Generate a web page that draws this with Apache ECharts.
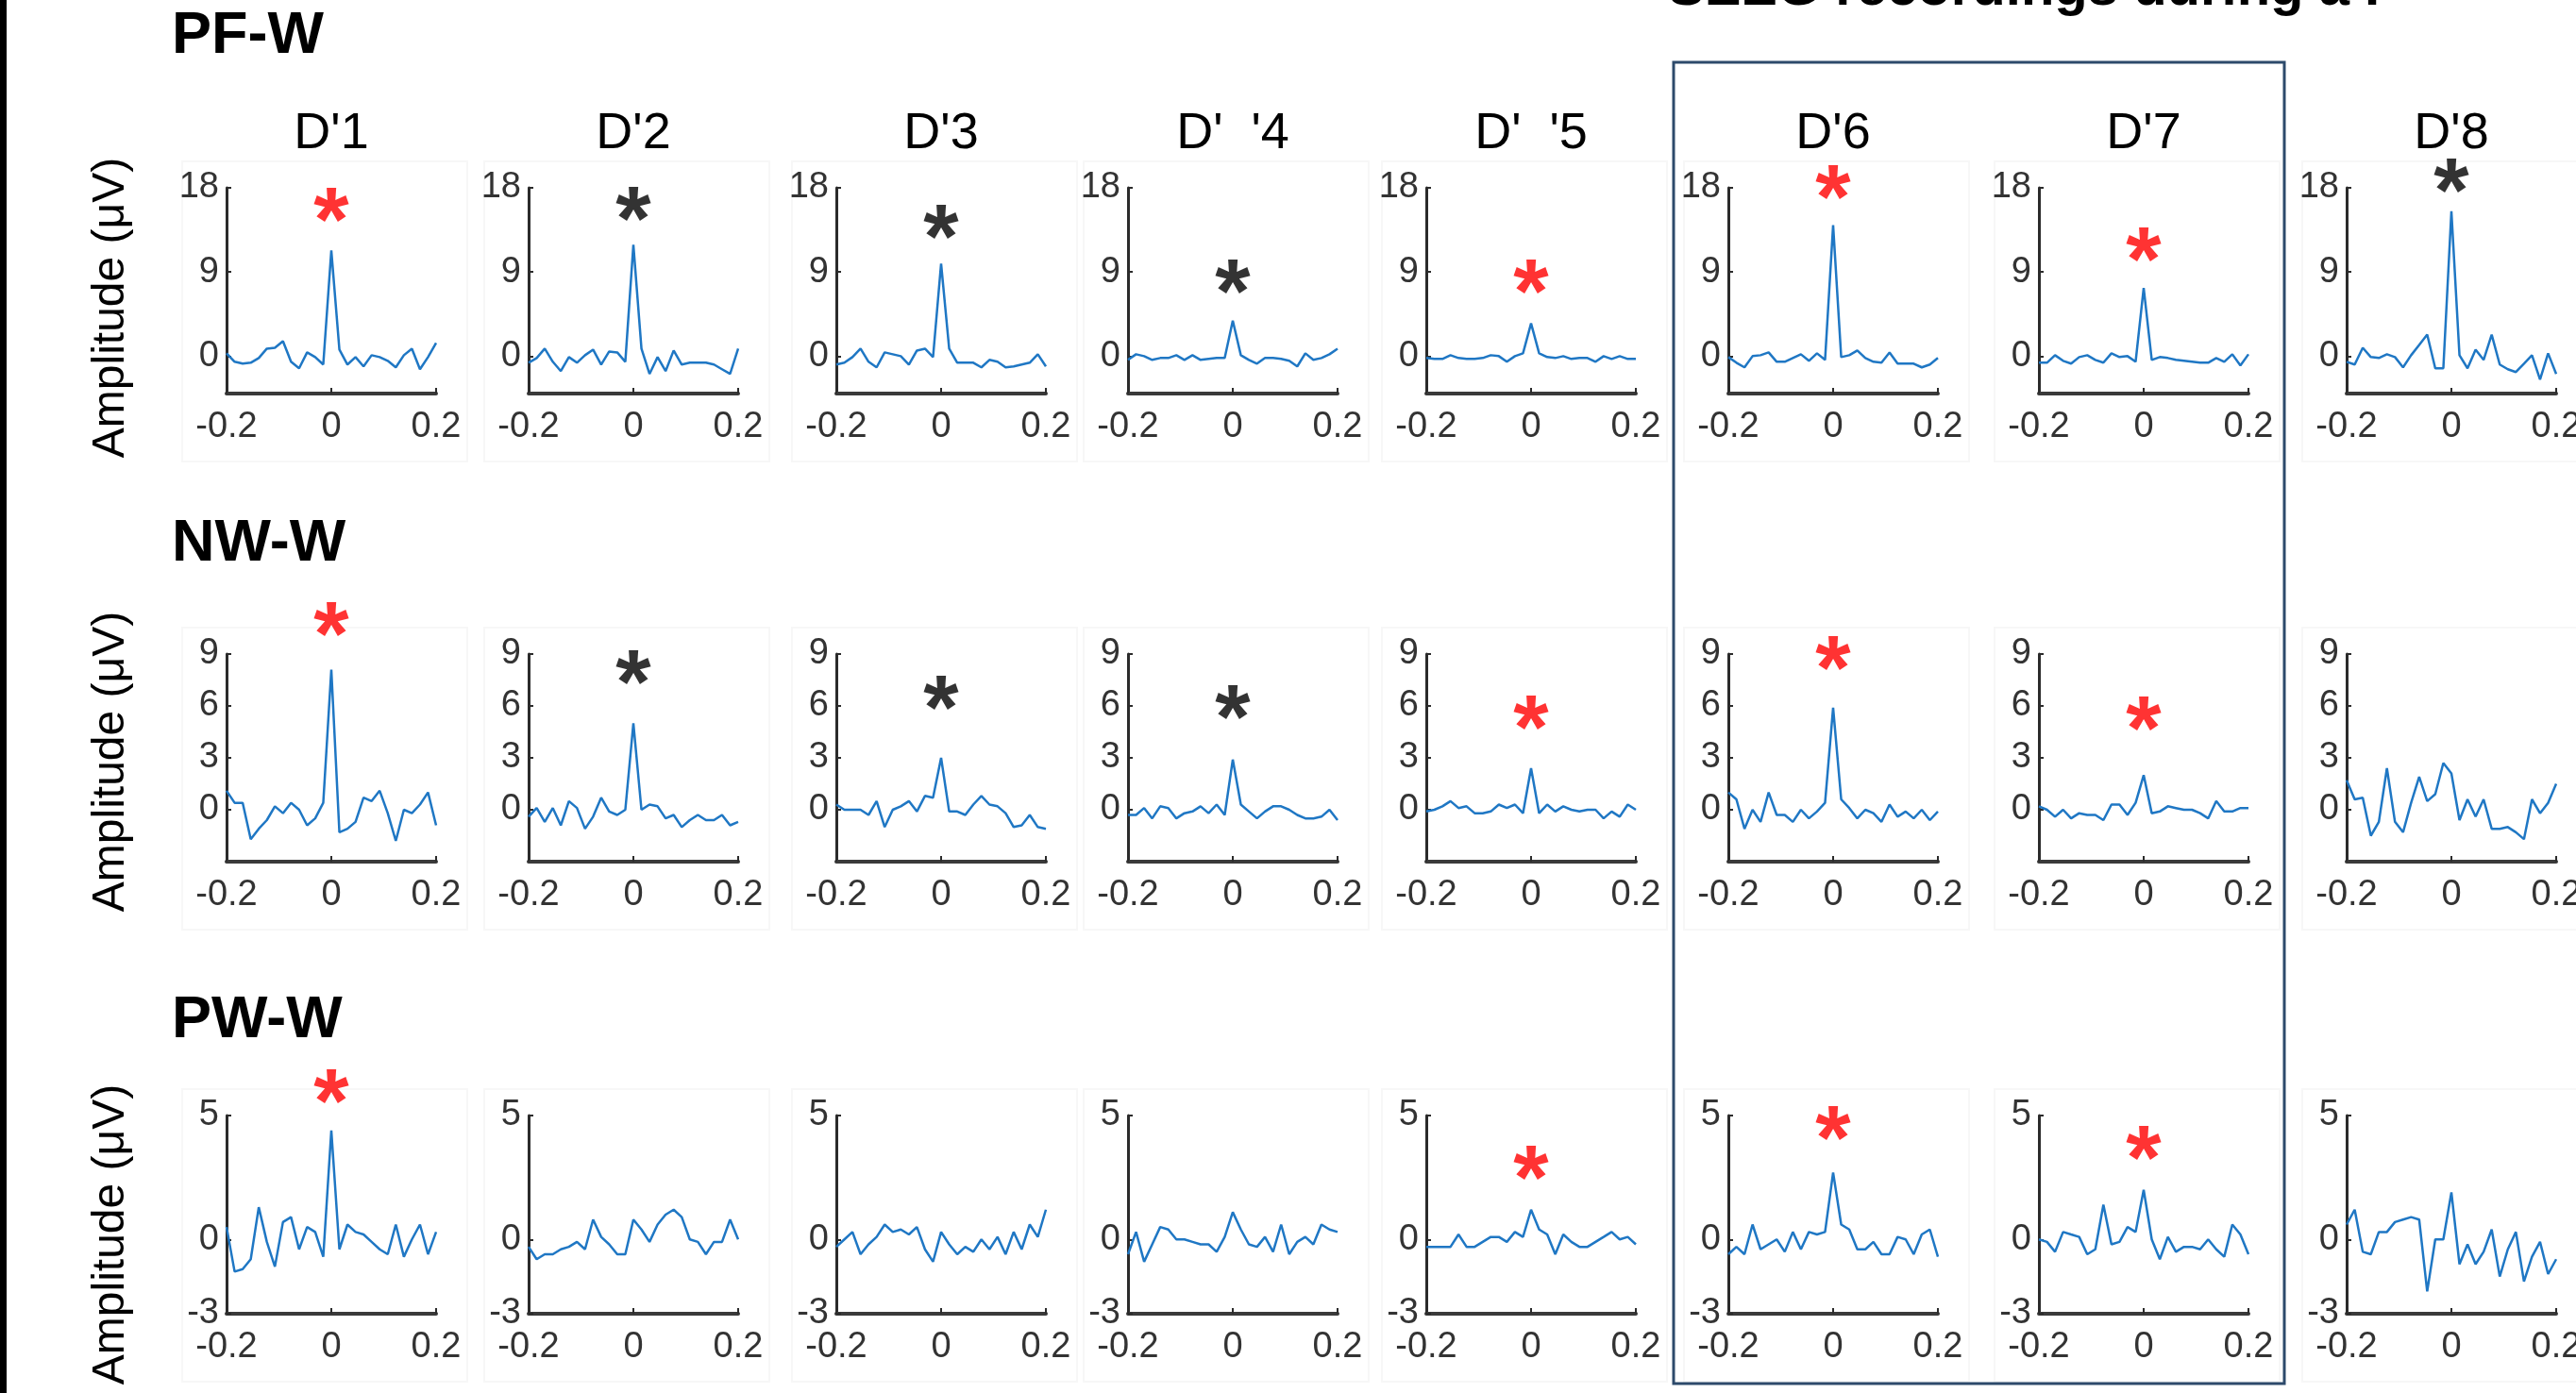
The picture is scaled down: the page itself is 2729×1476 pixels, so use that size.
<!DOCTYPE html>
<html>
<head>
<meta charset="utf-8">
<title>SEEG recordings</title>
<script src="https://cdn.jsdelivr.net/npm/echarts@6/dist/echarts.min.js"></script>
<style>
  html, body { margin: 0; padding: 0; background: #fff; overflow: hidden; }
  #main { width: 2729px; height: 1476px; }
</style>
</head>
<body>
<div id="main"></div>
<script>
// time axis (s), sample points of every trace
var times = [-0.2, -0.1846, -0.1692, -0.1538, -0.1385, -0.1231, -0.1077, -0.0923, -0.0769,
  -0.0615, -0.0462, -0.0308, -0.0154, 0, 0.0154, 0.0308, 0.0462, 0.0615, 0.0769,
  0.0923, 0.1077, 0.1231, 0.1385, 0.1538, 0.1692, 0.1846, 0.2];

var rowNames = ['PF-W', 'NW-W', 'PW-W'];
var colNames = ["D'1", "D'2", "D'3", "D'  '4", "D'  '5", "D'6", "D'7", "D'8"];
var yMin = [-4, -3, -3];
var yMax = [18, 9, 5];
var yTickValues = [[0, 9, 18], [0, 3, 6, 9], [-3, 0, 5]];

// amplitude (uV), one array per contact
var pfW = [
  [0.3,-0.6,-0.8,-0.7,-0.2,0.8,0.9,1.6,-0.6,-1.3,0.4,-0.1,-0.9,11.3,0.7,-0.9,-0.1,-1.1,0.1,-0.1,-0.5,-1.2,0.1,0.8,-1.4,-0.1,1.4],
  [-0.7,-0.2,0.8,-0.6,-1.6,-0.1,-0.7,0.1,0.7,-0.9,0.5,0.4,-0.6,11.9,0.8,-1.9,-0.1,-1.6,0.6,-0.9,-0.7,-0.7,-0.7,-0.9,-1.4,-1.9,0.8],
  [-0.9,-0.7,-0.1,0.8,-0.6,-1.2,0.4,0.2,0.0,-0.9,0.6,0.8,-0.1,9.9,0.8,-0.7,-0.7,-0.7,-1.2,-0.4,-0.6,-1.2,-1.1,-0.9,-0.7,0.2,-1.1],
  [-0.4,0.2,0.0,-0.4,-0.2,-0.2,0.1,-0.4,0.1,-0.4,-0.3,-0.2,-0.2,3.8,0.1,-0.4,-0.8,-0.2,-0.2,-0.3,-0.5,-1.1,0.3,-0.4,-0.2,0.2,0.8],
  [-0.2,-0.3,-0.3,0.1,-0.2,-0.3,-0.3,-0.2,0.1,0.0,-0.6,0.0,0.3,3.5,0.3,-0.1,-0.2,0.0,-0.3,-0.2,-0.2,-0.6,0.0,-0.3,0.0,-0.3,-0.3],
  [-0.1,-0.7,-1.2,0.0,0.1,0.4,-0.6,-0.6,-0.2,0.2,-0.5,0.3,-0.4,14.0,-0.1,0.1,0.6,-0.2,-0.6,-0.7,0.4,-0.8,-0.8,-0.8,-1.2,-0.9,-0.2],
  [-0.7,-0.7,0.1,-0.5,-0.8,-0.1,0.1,-0.4,-0.7,0.3,-0.1,0.0,-0.6,7.3,-0.4,-0.1,-0.2,-0.4,-0.5,-0.6,-0.7,-0.7,-0.2,-0.6,0.2,-1.0,0.2],
  [-0.6,-0.9,0.9,-0.1,-0.2,0.2,-0.1,-1.2,0.1,1.2,2.3,-1.3,-1.3,15.5,0.1,-1.3,0.7,-0.4,2.3,-0.9,-1.4,-1.7,-0.8,0.1,-2.5,0.3,-1.9]
];
var nwW = [
  [1.1,0.4,0.4,-1.7,-1.1,-0.6,0.2,-0.2,0.4,0.0,-0.9,-0.5,0.4,8.1,-1.3,-1.1,-0.7,0.7,0.5,1.1,-0.2,-1.8,0.0,-0.2,0.3,1.0,-0.9],
  [-0.4,0.1,-0.7,0.1,-0.9,0.5,0.1,-1.1,-0.4,0.7,-0.1,-0.3,0.0,5.0,0.0,0.3,0.2,-0.5,-0.3,-1.0,-0.6,-0.3,-0.6,-0.6,-0.3,-0.9,-0.7],
  [0.3,0.0,0.0,0.0,-0.3,0.5,-1.0,0.0,0.2,0.5,-0.1,0.8,0.7,3.0,-0.1,-0.1,-0.3,0.3,0.8,0.3,0.2,-0.2,-1.0,-0.9,-0.3,-1.0,-1.1],
  [-0.3,-0.3,0.1,-0.5,0.2,0.1,-0.5,-0.2,-0.1,0.2,-0.2,0.3,-0.3,2.9,0.3,-0.1,-0.5,-0.1,0.2,0.2,0.0,-0.3,-0.5,-0.5,-0.4,0.0,-0.6],
  [-0.1,0.0,0.2,0.5,0.1,0.2,-0.2,-0.2,-0.1,0.3,0.1,0.3,-0.2,2.4,-0.2,0.3,-0.1,0.2,0.0,-0.1,0.0,0.0,-0.5,-0.1,-0.4,0.3,0.0],
  [1.0,0.6,-1.1,0.0,-0.7,1.0,-0.3,-0.3,-0.7,0.0,-0.5,-0.1,0.4,5.9,0.6,0.1,-0.5,0.0,-0.2,-0.7,0.3,-0.4,-0.1,-0.5,0.0,-0.6,-0.1],
  [0.2,0.0,-0.4,0.0,-0.5,-0.2,-0.3,-0.3,-0.6,0.3,0.3,-0.3,0.4,2.0,-0.2,-0.1,0.2,0.1,0.0,0.0,-0.2,-0.5,0.5,-0.1,-0.1,0.1,0.1],
  [1.7,0.6,0.7,-1.5,-0.7,2.4,-0.7,-1.3,0.4,1.9,0.5,0.9,2.7,2.1,-0.6,0.6,-0.4,0.6,-1.1,-1.1,-1.0,-1.3,-1.7,0.6,-0.2,0.4,1.5]
];
var pwW = [
  [0.5,-1.3,-1.2,-0.8,1.3,-0.1,-1.1,0.7,0.9,-0.4,0.5,0.3,-0.7,4.4,-0.4,0.6,0.3,0.2,-0.1,-0.4,-0.6,0.6,-0.7,0.0,0.6,-0.6,0.3],
  [-0.3,-0.8,-0.6,-0.6,-0.4,-0.3,-0.1,-0.4,0.8,0.1,-0.2,-0.6,-0.6,0.8,0.4,-0.1,0.6,1.0,1.2,0.9,0.0,-0.1,-0.6,-0.1,-0.1,0.8,0.0],
  [-0.3,0.0,0.3,-0.6,-0.2,0.1,0.6,0.3,0.4,0.2,0.5,-0.4,-0.9,0.3,-0.2,-0.6,-0.3,-0.5,0.0,-0.4,0.1,-0.6,0.3,-0.4,0.6,0.1,1.2],
  [-0.6,0.3,-0.9,-0.2,0.5,0.4,0.0,0.0,-0.1,-0.2,-0.2,-0.5,0.1,1.1,0.4,-0.2,-0.3,0.1,-0.5,0.6,-0.6,-0.1,0.1,-0.2,0.6,0.4,0.3],
  [-0.3,-0.3,-0.3,-0.3,0.2,-0.3,-0.3,-0.1,0.1,0.1,-0.1,0.3,0.1,1.2,0.4,0.2,-0.6,0.2,-0.1,-0.3,-0.3,-0.1,0.1,0.3,0.0,0.1,-0.2],
  [-0.6,-0.3,-0.6,0.6,-0.4,-0.2,0.0,-0.5,0.3,-0.4,0.3,0.2,0.3,2.7,0.6,0.4,-0.4,-0.4,-0.1,-0.6,-0.6,0.1,0.0,-0.6,0.2,0.4,-0.7],
  [0.0,-0.1,-0.5,0.3,0.2,0.1,-0.6,-0.4,1.4,-0.2,-0.1,0.5,0.3,2.0,0.0,-0.8,0.1,-0.5,-0.3,-0.3,-0.4,0.0,-0.4,-0.7,0.6,0.2,-0.6],
  [0.6,1.2,-0.5,-0.6,0.3,0.3,0.7,0.8,0.9,0.8,-2.1,0.0,0.0,1.9,-1.0,-0.2,-1.0,-0.5,0.4,-1.5,-0.4,0.3,-1.7,-0.7,-0.1,-1.4,-0.8]
];
var rowsData = [pfW, nwW, pwW];

// significance asterisks drawn above t = 0 (null = none)
var starY = [
  [15.9, 16.0, 14.1, 8.3, 8.3, 18.4, 11.7, 19.1],
  [10.9, 8.1, 6.6, 6.1, 5.5, 8.9, 5.4, null],
  [6.1, null, null, null, 3.0, 4.6, 3.8, null]
];
var starColor = [
  ['red', 'black', 'black', 'black', 'red', 'red', 'red', 'black'],
  ['red', 'black', 'black', 'black', 'red', 'red', 'red', null],
  ['red', null, null, null, 'red', 'red', 'red', null]
];

// layout (px)
var colLeft = [240, 560, 886, 1195, 1511, 1831, 2160, 2486];
var panelW = 222;
var rowTop = [199, 693, 1182];
var rowH = [218, 220, 210];
var titleY = [39, 577, 1082];
var ampY = [326, 807, 1308];

var FONT = "'Liberation Sans', Arial, Helvetica, sans-serif";
var NARROW = "'Liberation Sans Narrow', 'Arial Narrow', 'Liberation Sans', sans-serif";
var AXIS_COLOR = '#2b2b2b';
var LINE_COLOR = '#1f77c4';

var myChart = echarts.init(document.getElementById('main'));

var grids = [], xAxes = [], yAxes = [], series = [], graphics = [];

graphics.push({ type: 'rect', shape: { x: 0, y: 0, width: 7, height: 1476 }, style: { fill: '#000' } });
graphics.push({
  type: 'text', x: 1767, y: -11,
  style: { text: 'SEEG recordings during a F', fontSize: 58, fontWeight: 'bold', fontFamily: FONT,
           fill: '#000', align: 'left', verticalAlign: 'middle' }
});
graphics.push({
  type: 'rect', shape: { x: 1773, y: 66, width: 647, height: 1400 },
  style: { fill: 'none', stroke: '#2d4a6b', lineWidth: 3 }
});

for (var c = 0; c < 8; c++) {
  graphics.push({
    type: 'text', x: colLeft[c] + panelW / 2, y: 142,
    style: { text: colNames[c], fontSize: 54, fontFamily: FONT, fill: '#000',
             align: 'center', verticalAlign: 'middle' }
  });
}

for (var r = 0; r < 3; r++) {
  graphics.push({
    type: 'text', x: 182, y: titleY[r],
    style: { text: rowNames[r], fontSize: 63, fontWeight: 'bold', fontFamily: FONT,
             fill: '#000', align: 'left', verticalAlign: 'middle' }
  });
  graphics.push({
    type: 'text', x: 118, y: ampY[r], rotation: Math.PI / 2,
    style: { text: 'Amplitude (\u03bcV)', fontSize: 48, fontFamily: FONT,
             fill: '#000', align: 'center', verticalAlign: 'middle' }
  });
  for (var c = 0; c < 8; c++) {
    var k = r * 8 + c;
    // faint frame of each pasted panel
    graphics.push({
      type: 'rect', z: -1,
      shape: { x: colLeft[c] - 47, y: rowTop[r] - 28, width: panelW + 80, height: rowH[r] + 100 },
      style: { fill: 'none', stroke: '#f7f7f7', lineWidth: 2 }
    });
    grids.push({ left: colLeft[c], top: rowTop[r], width: panelW, height: rowH[r], outerBoundsMode: 'none' });
    xAxes.push({
      gridIndex: k, type: 'value', min: -0.2, max: 0.2, interval: 0.2,
      axisLine: { show: true, onZero: false, lineStyle: { color: '#3a3a3a', width: 4 } },
      axisTick: { show: true, inside: true, length: 6, lineStyle: { color: AXIS_COLOR, width: 2 } },
      axisLabel: { margin: 17, fontSize: 38, fontFamily: NARROW, color: '#333' },
      splitLine: { show: false }
    });
    yAxes.push({
      gridIndex: k, type: 'value', min: yMin[r], max: yMax[r],
      axisLine: { show: true, onZero: false, lineStyle: { color: AXIS_COLOR, width: 3 } },
      axisTick: { show: true, inside: true, length: 5, customValues: yTickValues[r],
                  lineStyle: { color: AXIS_COLOR, width: 2 } },
      axisLabel: { customValues: yTickValues[r], margin: 8, padding: [8, 0, 0, 0],
                   fontSize: 38, fontFamily: NARROW, color: '#333' },
      splitLine: { show: false }
    });
    var vals = rowsData[r][c];
    series.push({
      type: 'line', xAxisIndex: k, yAxisIndex: k, showSymbol: false, symbol: 'none',
      data: times.map(function (t, i) { return [t, vals[i]]; }),
      lineStyle: { color: LINE_COLOR, width: 2.5 }
    });
    if (starY[r][c] !== null) {
      series.push({
        type: 'scatter', xAxisIndex: k, yAxisIndex: k, clip: false, symbolSize: 2,
        itemStyle: { color: 'rgba(0,0,0,0)' },
        data: [[0, starY[r][c]]],
        label: { show: true, position: 'inside', formatter: '*', fontSize: 96, fontWeight: 'bold',
                 fontFamily: FONT, color: starColor[r][c] === 'red' ? '#ff0000' : '#000',
                 textBorderWidth: 0, offset: [0, 19] }
      });
    }
  }
}

var option = {
  animation: false,
  backgroundColor: '#fff',
  grid: grids,
  xAxis: xAxes,
  yAxis: yAxes,
  series: series,
  graphic: graphics
};

myChart.setOption(option);
</script>
</body>
</html>
